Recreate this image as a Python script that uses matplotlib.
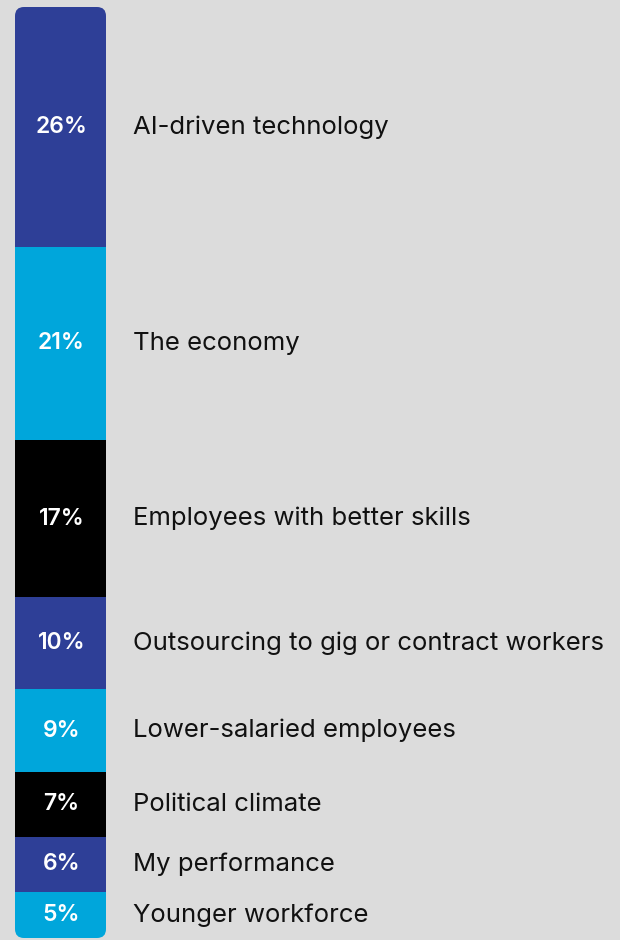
import matplotlib
matplotlib.use("Agg")
import matplotlib.pyplot as plt
from matplotlib.patches import FancyBboxPatch

# Share of respondents naming each factor
categories = [
    "AI-driven technology",
    "The economy",
    "Employees with better skills",
    "Outsourcing to gig or contract workers",
    "Lower-salaried employees",
    "Political climate",
    "My performance",
    "Younger workforce",
]
values = [26, 21, 17, 10, 9, 7, 6, 5]
colors = ["#2e3f97", "#00a6db", "#000000", "#2e3f97", "#00a6db", "#000000", "#2e3f97", "#00a6db"]

BG = "#dcdcdc"
W, H = 620, 940
fig = plt.figure(figsize=(W / 100, H / 100), dpi=100, facecolor=BG)
ax = fig.add_axes([0, 0, 1, 1])
ax.set_facecolor(BG)
ax.axis("off")

total = sum(values)
top_px, bot_px = 7, 938
px_per = (bot_px - top_px) / total
ax.set_xlim(0, W)
ax.set_ylim((H - top_px) / px_per, -top_px / px_per)

bar_left, bar_w = 15, 91
bar_x = bar_left + bar_w / 2

# rounded outline used to clip the stacked segments
outline = FancyBboxPatch(
    (bar_left, 0), bar_w, total,
    boxstyle="round,pad=0,rounding_size=9",
    mutation_aspect=1 / px_per,
    transform=ax.transData, facecolor="none", edgecolor="none",
)
ax.add_patch(outline)

bottoms = [sum(values[:i]) for i in range(len(values))]
bars = ax.bar([bar_x] * len(values), values, width=bar_w, bottom=bottoms,
              color=colors, linewidth=0)
for b in bars:
    b.set_clip_path(outline)

for cat, v, b0 in zip(categories, values, bottoms):
    yc = b0 + v / 2
    ax.text(bar_x + 1, yc, f"{v}%", color="white", fontsize=16.5, fontweight="semibold",
            family="Inter", ha="center", va="center")
    ax.text(133, yc, cat, color="#111111", fontsize=18.5,
            family="Inter", ha="left", va="center")

fig.savefig("out.png", dpi=100, facecolor=BG)
